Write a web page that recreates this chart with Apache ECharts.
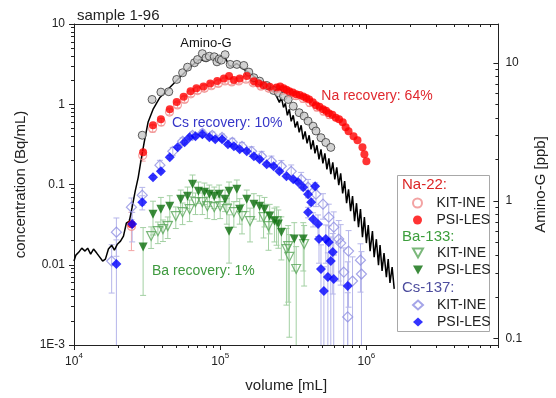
<!DOCTYPE html>
<html>
<head>
<meta charset="utf-8">
<title>sample 1-96</title>
<script src="https://cdn.jsdelivr.net/npm/echarts@6/dist/echarts.min.js"></script>
<style>
html, body { margin: 0; padding: 0; background: #fff; }
#chart { width: 556px; height: 398px; }
</style>
</head>
<body>
<div id="chart"></div>
<script>
// ---- data ----
// volume [mL], concentration [Bq/mL], relative error
var naKit = [[2.47e4,0.030,0.5],[2.95e4,0.23,0.15],[3.45e4,0.50,0.1],[3.95e4,0.60,0.1],[4.5e4,0.80,0.08],[5.1e4,0.98,0.08],[5.7e4,1.15,0.08],[6.3e4,1.35,0.08],[7.0e4,1.48,0.08],[7.8e4,1.58,0.08],[8.7e4,1.70,0.08],[9.7e4,1.82,0.08],[1.08e5,1.95,0.08],[1.2e5,1.90,0.08],[1.34e5,1.95,0.08],[1.5e5,2.05,0.08],[1.68e5,1.85,0.08],[1.9e5,1.68,0.08],[2.15e5,1.58,0.08],[2.4e5,1.55,0.08],[2.7e5,1.50,0.08],[3.0e5,1.38,0.1],[3.3e5,1.28,0.1],[3.7e5,1.18,0.1],[4.1e5,1.05,0.1],[4.6e5,0.92,0.1],[5.1e5,0.82,0.1],[5.6e5,0.74,0.1]];
var naPsi = [[2.47e4,0.032],[2.97e4,0.252],[3.47e4,0.547],[3.93e4,0.649],[4.52e4,0.865],[5.04e4,1.07],[5.62e4,1.24],[6.27e4,1.45],[6.88e4,1.58],[7.68e4,1.67],[8.55e4,1.82],[9.55e4,1.95],[1.06e5,2.10],[1.15e5,2.25],[1.24e5,2.01],[1.36e5,2.10],[1.52e5,2.25],[1.70e5,1.93],[1.83e5,1.82],[1.98e5,1.72],[2.18e5,1.65],[2.43e5,1.62],[2.57e5,1.66],[2.71e5,1.58],[2.84e5,1.52],[2.97e5,1.45],[3.14e5,1.40],[3.31e5,1.33],[3.5e5,1.30],[3.70e5,1.25],[3.88e5,1.20],[4.06e5,1.15],[4.3e5,1.06],[4.52e5,0.97],[4.78e5,0.93],[5.05e5,0.865],[5.3e5,0.83],[5.53e5,0.771],[5.85e5,0.74],[6.18e5,0.678],[6.5e5,0.65],[6.89e5,0.596],[7.21e5,0.516],[7.55e5,0.46],[8.17e5,0.399],[8.69e5,0.356],[9.40e5,0.291],[9.69e5,0.238],[1.0e6,0.195]];
var baKit = [[3.37e4,0.0228,0.3],[3.75e4,0.0262,0.3],[4.06e4,0.0278,0.3],[4.38e4,0.0303,0.3],[4.97e4,0.0404,0.3],[5.53e4,0.0452,0.3],[6.18e4,0.0493,0.3],[6.78e4,0.0603,0.3],[7.55e4,0.0603,0.3],[8.17e4,0.0537,0.3],[9.11e4,0.0522,0.3],[1.0e5,0.0537,0.3],[1.11e5,0.0493,0.35],[1.24e5,0.0452,0.35],[1.41e5,0.0404,0.4],[1.60e5,0.035,0.45],[1.98e5,0.0392,0.45],[2.14e5,0.0303,0.5],[2.43e5,0.035,0.5],[2.84e5,0.0157,0.8],[2.92e5,0.0171,0.8],[2.97e5,0.0125,0.9],[3.31e5,0.00885,0.9],[3.75e5,0.0181,0.7]];
var baPsi = [[2.97e4,0.0166,0.75],[3.47e4,0.0427,0.45],[3.93e4,0.0493,0.4],[4.52e4,0.0537,0.35],[5.37e4,0.0656,0.3],[5.98e4,0.0715,0.3],[6.47e4,0.101,0.3],[7.10e4,0.0826,0.3],[7.80e4,0.0802,0.3],[8.43e4,0.0757,0.3],[9.11e4,0.0715,0.3],[9.84e4,0.0757,0.3],[1.08e5,0.0656,0.3],[1.15e5,0.0826,0.3],[1.15e5,0.0262,0.6],[1.30e5,0.0875,0.3],[1.36e5,0.0493,0.35],[1.52e5,0.0656,0.3],[1.70e5,0.0569,0.35],[1.86e5,0.0537,0.35],[2.01e5,0.0493,0.4],[2.18e5,0.0404,0.4],[2.35e5,0.035,0.45],[2.50e5,0.0321,0.5],[2.62e5,0.0255,0.55],[3.21e5,0.0209,0.6],[3.70e5,0.0209,0.6]];
var csKit = [[1.81e4,0.0111,0.6],[1.95e4,0.0255,0.5],[2.47e4,0.0522,0.3],[2.93e4,0.0736,0.25],[3.87e4,0.174,0.15],[4.74e4,0.259,0.12],[5.53e4,0.346,0.1],[6.47e4,0.41,0.1],[7.55e4,0.435,0.1],[8.83e4,0.41,0.1],[1.03e5,0.387,0.1],[1.21e5,0.336,0.12],[1.41e5,0.299,0.12],[1.64e5,0.259,0.14],[1.92e5,0.225,0.15],[2.24e5,0.195,0.16],[2.62e5,0.169,0.18],[3.06e5,0.146,0.2],[3.58e5,0.116,0.22],[3.99e5,0.0925,0.25],[4.52e5,0.0757,0.3],[5.05e5,0.0569,0.35],[5.53e5,0.0392,0.45],[5.98e5,0.0294,0.55],[6.47e5,0.0209,0.7],[6.67e5,0.0186,0.7],[7.55e5,0.0148,0.8],[7.00e5,0.0081,1],[8.04e5,0.00627,1],[9.11e5,0.0114,0.6],[9.25e5,0.00766,0.9],[7.45e5,0.00224,1]];
var csPsi = [[1.95e4,0.0102,1],[2.50e4,0.0321,0.4],[2.93e4,0.0603,0.2],[3.47e4,0.123,0.05],[3.93e4,0.146,0.05],[4.52e4,0.219,0.05],[5.12e4,0.291,0.05],[5.71e4,0.336,0.05],[6.18e4,0.387,0.05],[6.78e4,0.399,0.05],[7.55e4,0.423,0.05],[8.43e4,0.387,0.05],[9.25e4,0.366,0.05],[1.03e5,0.366,0.05],[1.13e5,0.317,0.05],[1.24e5,0.299,0.05],[1.36e5,0.275,0.05],[1.52e5,0.259,0.05],[1.70e5,0.225,0.05],[1.86e5,0.207,0.05],[2.08e5,0.179,0.05],[2.32e5,0.169,0.05],[2.54e5,0.146,0.05],[2.84e5,0.127,0.05],[3.16e5,0.116,0.05],[3.42e5,0.107,0.05],[3.70e5,0.0925,0.08],[3.99e5,0.0757,0.1],[4.19e5,0.0603,0.1],[4.46e5,0.0953,0.1],[3.99e5,0.0452,0.15],[4.32e5,0.037,0.2],[4.67e5,0.0321,0.3],[4.74e5,0.0209,0.5],[5.28e5,0.0209,0.5],[5.53e5,0.0191,0.6],[5.89e5,0.0144,0.7],[5.71e5,0.0111,1],[4.89e5,0.00885,1],[5.45e5,0.00703,1],[5.98e5,0.00664,1],[5.12e5,0.00471,1],[7.45e5,0.00543,1]];
// volume [mL], Amino-G [ppb]
var aminoPts = [[2.93e4,2.99],[3.42e4,5.44],[3.93e4,6.15],[4.45e4,6.19],[5.04e4,7.60],[5.53e4,8.50],[5.98e4,9.33],[6.67e4,10.05],[7.0e4,10.6],[7.55e4,11.7],[8.0e4,10.9],[8.43e4,11.2],[9.11e4,11.1],[9.5e4,10.2],[9.84e4,10.7],[1.02e5,10.5],[1.08e5,11.5],[1.17e5,9.77],[1.30e5,9.77],[1.45e5,9.60],[1.57e5,8.59],[1.70e5,7.82],[1.86e5,7.39],[2.08e5,6.87],[2.32e5,6.32],[2.50e5,6.08],[2.71e5,5.75],[2.92e5,5.44],[3.16e5,4.86],[3.47e5,4.36],[3.75e5,4.12],[3.99e5,3.79],[4.32e5,3.48],[4.52e5,3.21],[4.89e5,2.87],[5.28e5,2.65],[5.71e5,2.44]];
var aminoLine = [[1.0e4,0.365],[1.03e4,0.403],[1.08e4,0.424],[1.13e4,0.453],[1.19e4,0.431],[1.24e4,0.453],[1.30e4,0.410],[1.36e4,0.446],[1.43e4,0.417],[1.50e4,0.390],[1.57e4,0.365],[1.64e4,0.377],[1.72e4,0.446],[1.81e4,0.476],[1.89e4,0.438],[1.98e4,0.484],[2.08e4,0.509],[2.18e4,0.553],[2.28e4,0.687],[2.39e4,0.711],[2.50e4,0.898],[2.62e4,1.17],[2.75e4,1.48],[2.88e4,2.00],[3.02e4,2.65],[3.21e4,3.71],[3.47e4,4.60],[3.87e4,5.62],[4.52e4,6.65],[5.28e4,7.86],[6.18e4,9.29],[7.21e4,10.6],[8.04e4,10.3],[8.83e4,11.0],[9.69e4,10.4],[1.08e5,11.0],[1.15e5,9.60],[1.21e5,9.44],[1.30e5,9.92],[1.45e5,8.98],[1.57e5,8.54],[1.70e5,8.0],[1.83e5,7.60],[1.98e5,7.23],[2.14e5,6.76],[2.32e5,6.22],[2.43e5,5.72],
  [2.54e5,5.18],[2.62e5,5.63],[2.71e5,4.76],[2.79e5,5.09],[2.88e5,4.17],[2.97e5,4.61],[3.06e5,3.77],[3.16e5,4.17],[3.26e5,3.41],[3.37e5,3.77],[3.47e5,3.14],[3.58e5,3.53],[3.69e5,2.79],[3.81e5,3.19],[3.93e5,2.61],[4.06e5,2.99],[4.18e5,2.36],[4.32e5,2.75],[4.45e5,2.21],[4.59e5,2.53],[4.74e5,2.00],[4.89e5,2.36],[5.04e5,1.87],[5.20e5,2.21],[5.37e5,1.69],[5.54e5,2.03],[5.71e5,1.56],[5.89e5,1.90],[6.08e5,1.43],[6.27e5,1.75],[6.47e5,1.30],[6.67e5,1.58],[6.88e5,1.13],[7.10e5,1.39],[7.32e5,0.960],[7.55e5,1.21],[7.80e5,0.840],[8.04e5,1.08],[8.30e5,0.711],[8.56e5,0.960],[8.83e5,0.643],[9.11e5,0.869],[9.40e5,0.544],[9.69e5,0.760],[1.00e6,0.493],[1.03e6,0.665],[1.06e6,0.431],[1.10e6,0.602],[1.13e6,0.390],[1.17e6,0.526],[1.21e6,0.341],[1.24e6,0.476],[1.28e6,0.309],[1.32e6,0.417],[1.37e6,0.279],[1.41e6,0.377],[1.45e6,0.253],[1.50e6,0.330],[1.55e6,0.229]];

// axes
var xMajor = [1e4, 1e5, 1e6];
var yLeftTicks = [0.001, 0.01, 0.1, 1, 10];
var yLeftLabels = ['1E-3', '0.01', '0.1', '1', '10'];
var yRightTicks = [0.1, 1, 10];
var yRightLabels = ['0.1', '1', '10'];
var X_MIN = 1e4, X_MAX = 8e6;
var YL_MIN = 0.001, YL_MAX = 10;
var YR_MIN = 0.0897, YR_MAX = 19.2;

var FONT = '"Liberation Sans", Arial, sans-serif';
var INK = '#222';
var DOWN_TRI = 'path://M0,0 L10,0 L5,9 Z';

function minorTicks(lo, hi) {
	var out = [];
	for (var k = -4; k <= 7; k++) {
		for (var m = 2; m <= 9; m++) {
			var v = +(m * Math.pow(10, k)).toPrecision(6);
			if (v >= lo && v <= hi) out.push(v);
		}
	}
	return out;
}
function pickLabel(ticks, labels) {
	return function (v) {
		for (var i = 0; i < ticks.length; i++) {
			if (Math.abs(Math.log10(v) - Math.log10(ticks[i])) < 1e-6) return labels[i];
		}
		return '';
	};
}
function pts(arr) { return arr.map(function (d) { return [d[0], d[1]]; }); }
function errs(arr) {
	return arr.map(function (d) { return [d[0], Math.max(d[1] * (1 - d[2]), 1e-6), d[1] * (1 + d[2])]; });
}

function errRender(params, api) {
	var top = api.coord([api.value(0), api.value(2)]);
	var bot = api.coord([api.value(0), api.value(1)]);
	var cs = params.coordSys;
	var yb = Math.min(bot[1], cs.y + cs.height);
	var style = { stroke: api.visual('color'), lineWidth: 1 };
	var kids = [
		{ type: 'line', shape: { x1: top[0], y1: top[1], x2: top[0], y2: yb }, style: style },
		{ type: 'line', shape: { x1: top[0] - 3, y1: top[1], x2: top[0] + 3, y2: top[1] }, style: style }
	];
	if (bot[1] < cs.y + cs.height) {
		kids.push({ type: 'line', shape: { x1: bot[0] - 3, y1: bot[1], x2: bot[0] + 3, y2: bot[1] }, style: style });
	}
	return { type: 'group', children: kids };
}
function errSeries(arr, color) {
	return {
		type: 'custom', xAxisIndex: 0, yAxisIndex: 0, z: 1, silent: true,
		itemStyle: { color: color },
		encode: { x: 0, y: [1, 2] },
		renderItem: errRender,
		data: errs(arr)
	};
}

function logAxis(extra) {
	var a = {
		type: 'log', logBase: 10,
		axisLine: { show: true, lineStyle: { color: INK, width: 1 } },
		axisTick: { lineStyle: { color: INK } },
		axisLabel: { show: false },
		splitLine: { show: false }
	};
	for (var k in extra) a[k] = extra[k];
	return a;
}

var chart = echarts.init(document.getElementById('chart'), null, { renderer: 'canvas' });

var legendText = { fontSize: 14, lineHeight: 15, color: INK, fontFamily: FONT, padding: [0, 0, 0, 9] };
function legendAt(top, names) {
	return {
		data: names, orient: 'vertical', left: 412, top: top, padding: 0,
		itemWidth: 10, itemHeight: 9, itemGap: 2, selectedMode: false, z: 20,
		textStyle: legendText,
		formatter: function (n) { return n.split(' ')[1]; }
	};
}

chart.setOption({
	animation: false,
	textStyle: { fontFamily: FONT },
	title: {
		text: 'sample 1-96', left: 72, top: 3,
		textStyle: { fontSize: 15, fontWeight: 'normal', color: INK, fontFamily: FONT }
	},
	grid: { left: 74, right: 50, top: 24, bottom: 52 },
	legend: [
		legendAt(195.5, ['Na-22 KIT-INE', 'Na-22 PSI-LES']),
		legendAt(245.5, [{ name: 'Ba-133 KIT-INE', icon: DOWN_TRI }, { name: 'Ba-133 PSI-LES', icon: DOWN_TRI }]),
		legendAt(297.5, ['Cs-137 KIT-INE', 'Cs-137 PSI-LES'])
	],
	xAxis: [
		logAxis({
			position: 'bottom', min: X_MIN, max: X_MAX,
			axisTick: { customValues: xMajor, length: 5, lineStyle: { color: INK } },
			axisLabel: {
				customValues: xMajor, margin: 7,
				formatter: function (v) { return '{b|10}{s|' + Math.round(Math.log10(v)) + '}'; },
				rich: {
					b: { fontSize: 12, color: INK, fontFamily: FONT, lineHeight: 16, verticalAlign: 'bottom' },
					s: { fontSize: 8, color: INK, fontFamily: FONT, lineHeight: 16, verticalAlign: 'top' }
				}
			},
			name: 'volume [mL]', nameLocation: 'middle', nameGap: 33,
			nameTextStyle: { fontSize: 15, color: INK, fontFamily: FONT }
		}),
		logAxis({
			position: 'bottom', min: X_MIN, max: X_MAX, axisLine: { show: false },
			axisTick: { customValues: minorTicks(X_MIN, X_MAX), length: 3, lineStyle: { color: INK } }
		}),
		logAxis({
			position: 'top', min: X_MIN, max: X_MAX,
			axisTick: { customValues: xMajor, inside: true, length: 5, lineStyle: { color: INK } }
		}),
		logAxis({
			position: 'top', min: X_MIN, max: X_MAX, axisLine: { show: false },
			axisTick: { customValues: minorTicks(X_MIN, X_MAX), inside: true, length: 3, lineStyle: { color: INK } }
		})
	],
	yAxis: [
		logAxis({
			position: 'left', min: YL_MIN, max: YL_MAX,
			axisTick: { customValues: yLeftTicks, length: 5, lineStyle: { color: INK } },
			axisLabel: {
				customValues: yLeftTicks, margin: 9, fontSize: 12, color: INK, fontFamily: FONT,
				formatter: pickLabel(yLeftTicks, yLeftLabels)
			},
			name: 'concentration (Bq/mL)', nameLocation: 'middle', nameGap: 42,
			nameTextStyle: { fontSize: 15, color: INK, fontFamily: FONT }
		}),
		logAxis({
			position: 'left', min: YL_MIN, max: YL_MAX, axisLine: { show: false },
			axisTick: { customValues: minorTicks(YL_MIN, YL_MAX), length: 3, lineStyle: { color: INK } }
		}),
		logAxis({
			position: 'right', min: YR_MIN, max: YR_MAX,
			axisTick: { customValues: yRightTicks, inside: true, length: 5, lineStyle: { color: INK } },
			axisLabel: {
				customValues: yRightTicks, margin: 7, fontSize: 12, color: INK, fontFamily: FONT,
				formatter: pickLabel(yRightTicks, yRightLabels)
			},
			name: 'Amino-G [ppb]', nameLocation: 'middle', nameGap: 28,
			nameTextStyle: { fontSize: 15, color: INK, fontFamily: FONT }
		}),
		logAxis({
			position: 'right', min: YR_MIN, max: YR_MAX, axisLine: { show: false },
			axisTick: { customValues: minorTicks(YR_MIN, YR_MAX), inside: true, length: 3, lineStyle: { color: INK } }
		})
	],
	graphic: [
		{ type: 'rect', z: 15, shape: { x: 397.5, y: 175.5, width: 92, height: 156 },
			style: { fill: '#fff', stroke: '#a8a8a8', lineWidth: 1 } },
		{ type: 'text', z: 20, x: 402, y: 185, style: { text: 'Na-22:', fill: '#dc2626', font: '15px ' + FONT, verticalAlign: 'middle' } },
		{ type: 'text', z: 20, x: 402, y: 237, style: { text: 'Ba-133:', fill: '#3d9e3d', font: '15px ' + FONT, verticalAlign: 'middle' } },
		{ type: 'text', z: 20, x: 402, y: 288, style: { text: 'Cs-137:', fill: '#4d4d9e', font: '15px ' + FONT, verticalAlign: 'middle' } },
		{ type: 'text', z: 20, x: 206, y: 43, style: { text: 'Amino-G', fill: '#111', font: '13px ' + FONT, align: 'center', verticalAlign: 'middle' } },
		{ type: 'text', z: 20, x: 377, y: 96, style: { text: 'Na recovery: 64%', fill: '#e0282e', font: '14px ' + FONT, align: 'center', verticalAlign: 'middle' } },
		{ type: 'text', z: 20, x: 172, y: 123, style: { text: 'Cs recovery: 10%', fill: '#3636c8', font: '14px ' + FONT, verticalAlign: 'middle' } },
		{ type: 'text', z: 20, x: 152, y: 271, style: { text: 'Ba recovery: 1%', fill: '#3f9a3f', font: '14px ' + FONT, verticalAlign: 'middle' } }
	],
	series: [
		errSeries(naKit, '#f3a4a4'),
		errSeries(baKit, '#a3d0a3'),
		errSeries(baPsi, '#a3d0a3'),
		errSeries(csKit, '#b6b6ea'),
		errSeries(csPsi, '#b6b6ea'),
		{
			name: 'Amino-G', type: 'line', xAxisIndex: 0, yAxisIndex: 2, z: 3,
			showSymbol: false, symbol: 'none', silent: true,
			lineStyle: { color: '#000', width: 1.5 },
			data: aminoLine
		},
		{
			name: 'Amino-G KIT', type: 'scatter', xAxisIndex: 0, yAxisIndex: 2, z: 4,
			symbol: 'circle', symbolSize: 8,
			itemStyle: { color: '#c8c8c8', borderColor: '#3a3a3a', borderWidth: 1 },
			data: aminoPts
		},
		{
			name: 'Na-22 KIT-INE', type: 'scatter', xAxisIndex: 0, yAxisIndex: 0, z: 4,
			symbol: 'circle', symbolSize: 8,
			itemStyle: { color: 'rgba(255,255,255,0)', borderColor: '#f08c8c', borderWidth: 1.2 },
			data: pts(naKit)
		},
		{
			name: 'Na-22 PSI-LES', type: 'scatter', xAxisIndex: 0, yAxisIndex: 0, z: 5,
			symbol: 'circle', symbolSize: 8,
			itemStyle: { color: '#ff0000' },
			data: naPsi
		},
		{
			name: 'Ba-133 KIT-INE', type: 'scatter', xAxisIndex: 0, yAxisIndex: 0, z: 4,
			symbol: 'triangle', symbolRotate: 180, symbolSize: 9,
			itemStyle: { color: 'rgba(255,255,255,0)', borderColor: '#5aa65a', borderWidth: 1.2 },
			data: pts(baKit)
		},
		{
			name: 'Ba-133 PSI-LES', type: 'scatter', xAxisIndex: 0, yAxisIndex: 0, z: 5,
			symbol: 'triangle', symbolRotate: 180, symbolSize: 9,
			itemStyle: { color: '#0b6e0b' },
			data: pts(baPsi)
		},
		{
			name: 'Cs-137 KIT-INE', type: 'scatter', xAxisIndex: 0, yAxisIndex: 0, z: 4,
			symbol: 'diamond', symbolSize: 10,
			itemStyle: { color: 'rgba(255,255,255,0)', borderColor: '#8e8ee2', borderWidth: 1.2 },
			data: pts(csKit)
		},
		{
			name: 'Cs-137 PSI-LES', type: 'scatter', xAxisIndex: 0, yAxisIndex: 0, z: 5,
			symbol: 'diamond', symbolSize: 10,
			itemStyle: { color: '#0000ff' },
			data: pts(csPsi)
		}
	]
});
</script>
</body>
</html>
